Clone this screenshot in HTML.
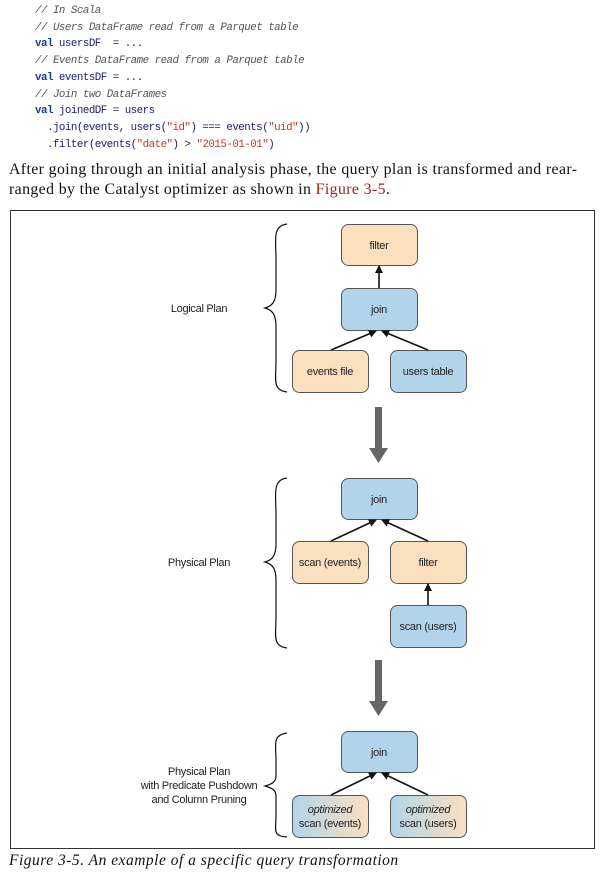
<!DOCTYPE html>
<html><head><meta charset="utf-8"><style>
body{margin:0;width:604px;height:873px;background:#fff;position:relative;overflow:hidden}
.code{position:absolute;left:35px;top:3px;font-family:"Liberation Mono",monospace;font-size:10.8px;letter-spacing:-0.5px;line-height:16.7px;color:#1a1a6e;white-space:pre}
.c{color:#555;font-style:italic}
.k{color:#1a3a8a;font-weight:bold}
.s{color:#c0392b}
.p{position:absolute;left:9px;top:160px;width:595px;font-family:"Liberation Serif",serif;font-size:15.8px;letter-spacing:0.4px;line-height:20px;color:#111;white-space:nowrap}
.cap{position:absolute;left:9px;top:852px;font-family:"Liberation Serif",serif;font-style:italic;font-size:15.5px;letter-spacing:0.5px;color:#111}
</style></head><body>
<div class="code"><span class="c">// In Scala</span>
<span class="c">// Users DataFrame read from a Parquet table</span>
<span class="k">val</span> usersDF  = ...
<span class="c">// Events DataFrame read from a Parquet table</span>
<span class="k">val</span> eventsDF = ...
<span class="c">// Join two DataFrames</span>
<span class="k">val</span> joinedDF = users
  .join(events, users(<span class="s">"id"</span>) === events(<span class="s">"uid"</span>))
  .filter(events(<span class="s">"date"</span>) &gt; <span class="s">"2015-01-01"</span>)</div>
<div class="p">After going through an initial analysis phase, the query plan is transformed and rear-<br>ranged by the Catalyst optimizer as shown in <span style="color:#a31f1f">Figure 3-5</span>.</div>
<svg style="position:absolute;left:0;top:0" width="604" height="873" font-family="Liberation Sans, sans-serif" font-size="11" letter-spacing="-0.3" text-anchor="middle">
<defs>
<marker id="a" markerWidth="8" markerHeight="8" refX="7" refY="4" orient="auto" markerUnits="userSpaceOnUse"><path d="M0,0 L8,4 L0,8z" fill="#111"/></marker>
<linearGradient id="g" x1="0" x2="1"><stop offset="0" stop-color="#b2d4ea"/><stop offset="1" stop-color="#fbe0c0"/></linearGradient>
</defs>
<rect x="10.5" y="210.5" width="584" height="638" fill="none" stroke="#333"/>
<g stroke="#555" stroke-width="1">
<rect x="341.5" y="224.5" width="76" height="41" rx="7" fill="#fbe0c0"/>
<rect x="341.5" y="288.5" width="76" height="42" rx="7" fill="#b2d4ea"/>
<rect x="292.5" y="350.5" width="76" height="42" rx="7" fill="#fbe0c0"/>
<rect x="390.5" y="350.5" width="76" height="42" rx="7" fill="#b2d4ea"/>
<rect x="341.5" y="478.5" width="76" height="41" rx="7" fill="#b2d4ea"/>
<rect x="292.5" y="541.5" width="76" height="42" rx="7" fill="#fbe0c0"/>
<rect x="390.5" y="541.5" width="76" height="42" rx="7" fill="#fbe0c0"/>
<rect x="390.5" y="605.5" width="76" height="42" rx="7" fill="#b2d4ea"/>
<rect x="341.5" y="731.5" width="76" height="41" rx="7" fill="#b2d4ea"/>
<rect x="292.5" y="795.5" width="76" height="42" rx="7" fill="url(#g)"/>
<rect x="390.5" y="795.5" width="76" height="42" rx="7" fill="url(#g)"/>
</g>
<g stroke="#111" stroke-width="1.6" marker-end="url(#a)">
<line x1="379" y1="288" x2="379" y2="266"/>
<line x1="331" y1="350" x2="376" y2="331"/>
<line x1="428" y1="350" x2="382" y2="331"/>
<line x1="331" y1="541" x2="376" y2="520"/>
<line x1="428" y1="541" x2="382" y2="520"/>
<line x1="428" y1="605" x2="428" y2="584"/>
<line x1="331" y1="795" x2="376" y2="773"/>
<line x1="428" y1="795" x2="382" y2="773"/>
</g>
<g fill="#666">
<rect x="375" y="407" width="7" height="42"/><path d="M369,448 L388,448 L378.5,463z"/>
<rect x="375" y="660" width="7" height="42"/><path d="M369,701 L388,701 L378.5,716z"/>
</g>
<g fill="none" stroke="#111" stroke-width="1.2">
<path d="M287,224 C272,226 276,240 276,260 L276,290 C276,302 272,306 265,308 C272,310 276,314 276,326 L276,360 C276,380 272,390 287,392"/>
<path d="M287,478 C272,480 276,494 276,514 L276,544 C276,556 272,560 265,562 C272,564 276,568 276,580 L276,616 C276,636 272,646 287,648"/>
<path d="M287,733 C272,735 276,745 276,760 L276,776 C276,782 272,784 265,786 C272,788 276,790 276,796 L276,816 C276,830 272,836 287,837"/>
</g>
<g fill="#222">
<text x="379" y="249">filter</text>
<text x="379" y="313">join</text>
<text x="330" y="375">events file</text>
<text x="428" y="375">users table</text>
<text x="379" y="503">join</text>
<text x="330" y="566">scan (events)</text>
<text x="428" y="566">filter</text>
<text x="428" y="630">scan (users)</text>
<text x="379" y="756">join</text>
<text x="330" y="813" font-style="italic">optimized</text>
<text x="330" y="827">scan (events)</text>
<text x="428" y="813" font-style="italic">optimized</text>
<text x="428" y="827">scan (users)</text>
<text x="199" y="312">Logical Plan</text>
<text x="199" y="566">Physical Plan</text>
<text x="199" y="775">Physical Plan</text>
<text x="199" y="789">with Predicate Pushdown</text>
<text x="199" y="803">and Column Pruning</text>
</g>
</svg>
<div class="cap">Figure 3-5. An example of a specific query transformation</div>
</body></html>
